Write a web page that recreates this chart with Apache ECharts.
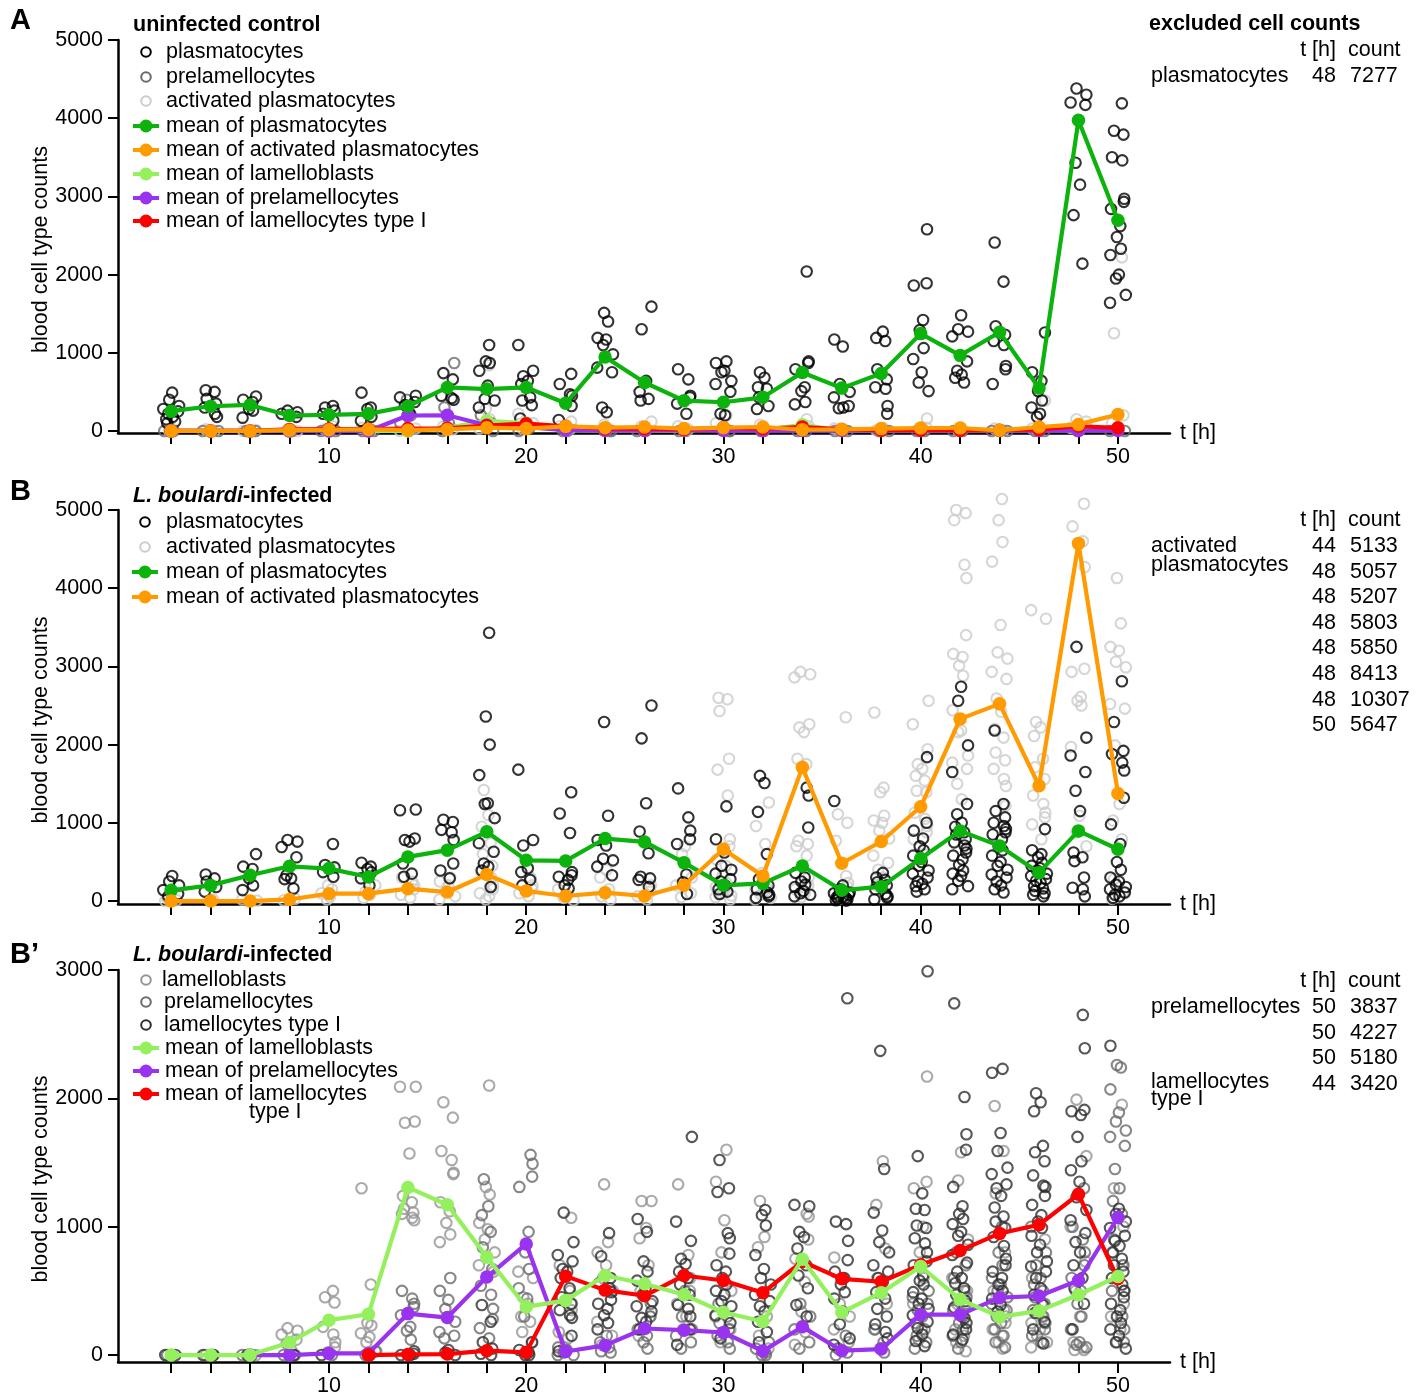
<!DOCTYPE html>
<html><head><meta charset="utf-8">
<script src="https://cdn.jsdelivr.net/npm/echarts@6/dist/echarts.min.js"></script>
<style>html,body{margin:0;padding:0;background:#fff}#c{width:1426px;height:1397px}</style>
</head><body><div id="c"></div><script>
// ---------- time points and axis ticks ----------
const T = [2,4,6,8,10,12,14,16,18,20,22,24,26,28,30,32,34,36,38,40,42,44,46,48,50];
const X_TICKS = [2,4,6,8,10,12,14,16,18,20,22,24,26,28,30,32,34,36,38,40,42,44,46,48,50];
const X_LABELS = [10,20,30,40,50];
const Y_TICKS_5000 = [0,1000,2000,3000,4000,5000];
const Y_TICKS_3000 = [0,1000,2000,3000];

// ---------- Panel A: uninfected control ----------
const A_PLASMA = [
 [490,400,320,280,250,220,180,150,120,100],[520,500,410,350,300,220,180],[440,400,370,280,260,170],
 [260,240,220,180],[320,300,260,220,130],[490,300,280,180,130],[450,430,370,330,230],
 [740,660,450,420,400],[1100,890,870,770,580,410,390,300],[1100,770,700,640,600,430,390,330,160],
 [730,600,470,450,320,140],[1510,1400,1190,1170,1100,980,810,750,300,240],[1590,1300,640,500,410,390],
 [790,660,450,430,350,220],[890,870,770,750,640,600,500,220,200],[750,680,560,540,430,320,280],
 [2040,890,870,790,560,510,370,340],[1170,1080,600,500,430,320,290,300],[1270,1190,1150,790,660,560,540,320,220],
 [2580,1890,1860,1420,1290,1060,920,750,620,510],[1480,1300,1270,1210,890,770,720,680,620],
 [2410,1910,1340,1230,1150,1100,830,790,600],[1260,750,640,510,390,300,220,180],
 [4380,4300,4200,4170,3430,3150,2760,2140],
 [4190,3840,3790,3500,3460,2970,2930,2840,2620,2480,2330,2250,2000,1950,1740,1640]
];
const A_PRELAM = [
 [0,0],[0,0],[0,0],[0,0],[0,0],[0,0],[400,200,100,0],[870,300,100,0],[200,100,0],[30,0],
 [0,0],[0,0],[0,0],[0,0],[0,0],[0,0],[0,0],[0,0],[0,0],[0,0],[0,0],[0,0],[0,0],[30,0],[0,0]
];
const A_ACT = [
 [30,0],[20,0],[10,0],[20,0],[60,20],[40,0],[30,0],[60,20],[840,280,150,30],[220,100,20],
 [120,60,20],[80,30],[120,60,20],[60,20],[200,100,30],[80,30],[150,60],[30,10],[40,10],[160,40],
 [40,10],[30,10],[390,30],[150,120,40],[2220,1250,200,100]
];
const A_M_PLASMA = [253,316,333,198,207,219,316,557,536,557,354,945,620,388,367,430,747,548,734,1245,966,1262,548,3975,2696];
const A_M_ACT    = [0,0,0,10,15,20,10,20,42,30,59,42,51,30,42,51,17,21,30,38,38,8,51,84,211];
const A_M_LAMBL  = [0,0,0,0,0,0,0,40,130,100,10,5,5,5,30,10,80,5,5,5,5,5,10,10,30];
const A_M_PRELAM = [0,0,0,0,0,0,198,200,72,50,10,5,5,10,5,5,5,5,5,5,5,5,5,5,5];
const A_M_LAM1   = [0,0,0,20,25,25,30,35,70,93,60,30,30,20,40,30,50,20,10,10,10,10,20,60,40];

// ---------- Panel B: L. boulardi-infected, plasmatocytes ----------
const B_PLASMA = [
 [320,250,200,140,90,60],[340,290,250,180,120],[600,440,410,290,200,140],[780,760,690,560,330,290,280,160],
 [730,460,430,370,310],[490,440,410,370,290,200],[1170,1160,800,780,760,480,350,310],
 [1040,1010,910,880,780,480,390,290],[3430,2360,2000,1610,1250,1240,1060,740,630,480,440,390,180],
 [1680,780,710,420,370,270,200],[1390,1120,870,370,330,310,270,200,160],[2290,1090,780,710,540,520,440,330],
 [2500,2080,1250,890,610,310,290,270,180],[1440,1070,900,790,730,340,240,90],
 [1210,790,620,450,400,350,280,250,200,150,120,90],
 [1600,1510,1140,600,280,200,150,110,80,60,40],[1450,1350,940,360,300,250,210,180,130,100,80,60],
 [1280,200,150,110,100,80,70,60,50,40,30,20,10,5],[360,300,270,240,200,150,90,60,40,20],
 [1840,1000,900,800,700,650,580,500,450,390,350,300,250,220,190,150,120],
 [2740,2560,1990,1650,1240,1110,1000,950,880,850,790,750,710,670,620,580,530,460,390,350,320,260,190,150],
 [2180,1240,1150,1070,1000,960,920,880,850,790,700,650,580,500,450,400,340,300,250,200,150,110],
 [920,650,600,560,490,450,420,390,350,320,280,260,230,190,160,130,100,80,60],
 [3250,2090,1860,1650,1410,1150,620,560,510,300,170,150,60],
 [2810,2290,1920,1880,1770,1670,1320,980,730,500,400,300,250,210,180,150,110,80,60,40]
];
const B_ACT = [
 [30,10,0],[20,10],[20,5],[30,10],[200,150,100,50,20],[200,120,80,40],[300,250,200,150,80,40],
 [300,250,200,120,60,20],[1420,1100,950,740,600,450,380,300,200,150,100,60,20],[300,200,150,100,60],
 [150,80,40,10],[400,300,150,60,20],[200,120,60,20],[700,600,300,200,100,50],
 [2600,2580,2430,1820,1680,1350,790,700,530,450,320,230,180,140,100,70,50,20],[1260,960,730,360,190,150,110,80,40,20],
 [2930,2900,2860,2260,2220,2160,1820,1750,770,730,700,580,300,200,150,100,50],[2350,1110,1000,770,320,230,180,100,60,30],
 [2410,1450,1390,1090,1030,1000,900,800,580,490,400,300,200,80],
 [2560,2260,1940,1750,1690,1600,1540,1410,1390,1130,1050,960,880,790,600],
 [5000,4960,4870,4300,4130,3400,3160,3120,3010,2880,2440,2180,2160,1860,1770,1690,1500,1300],
 [5140,4870,4590,4340,3530,3180,3100,2930,2840,2590,2420,2200,2090,1900,1800,1690,1560,1470,1220],
 [3720,3610,2290,2220,2110,1820,1710,1560,1350,1240,1130,1070,980,790],
 [5080,4790,4600,4270,2970,2930,2610,2560,2500,1970,1090,880,700],
 [4130,3550,3250,3200,3060,2990,2520,2460,1990,1240,1030,790,280,110,30]
];
const B_M_PLASMA = [137,200,329,444,415,308,564,650,885,521,513,799,756,491,201,226,449,137,184,543,897,705,363,897,662];
const B_M_ACT    = [0,0,0,20,94,94,158,115,338,128,64,107,64,201,662,320,1709,483,761,1205,2329,2521,1474,4573,1376];

// ---------- Panel B': L. boulardi-infected, lamellocyte lineage ----------
const BP_LAMBL = [
 [0],[0],[0],[210,190,160,120,90,40],[500,450,410,220,160,100,60],[1300,550,250,230,170,140,100,30],
 [2090,2090,1820,1810,1570,1240,1190,1140,1110,1100,1070,1050],[1970,1850,1590,1520,1420,1410,1190,1120,1030,940,880],
 [2100,1310,1250,1030,980,900,800,700,650],[650,600,450,400,300,260,180,100],[1070,700,500,400,350,180,130,60],
 [1330,880,800,700,600,500,260,150,80],[1200,1200,990,910,700,500,300,150],[1330,780,600,500,400,300,200],
 [1600,1350,1050,800,500,300,200,100],[1200,920,840,300,150,50],[1100,1080,900,750,570,340,180,80],
 [760,600,400,300,200,100,50],[1510,1170,830,600,400,200],[2170,1350,1300,1000,800,600,400,200,120],
 [1580,1360,900,600,500,400,300,200,150,100,30],[1940,1590,1260,800,500,350,300,250,200,150,100,50],
 [900,600,400,350,300,250,200,150,100,60],
 [1990,1550,1000,730,500,300,100,60,40,40],[1950,1300,1000,800,700,500,400,300,200,100]
];
const BP_PRELAM = [
 [0],[0],[0],[0,0],[20,0],[30,0],[500,440,400,375,310,220,190,120],[600,500,430,360,260,180,150,130],
 [1370,1160,1090,960,840,670,540,470,360,280,210,130],[1560,1490,1390,1310,960,800,670,520,440,300],
 [60,40,20,0,0],[150,100,60,30,20],[400,300,200,150,100,50],[500,300,200,150,100,50],[400,300,250,200,150,100,50],
 [100,50,20,0,0],[400,300,200,100,50],[150,50,20,0],[200,100,50,20],[500,450,400,350,300,250,200,150,100,50],
 [800,700,600,500,450,400,350,300,250,200,150,100,50],
 [1000,800,700,600,550,500,450,400,350,300,250,200,150,100,60],
 [1000,800,700,600,550,500,450,400,350,300,250,200,150,100],
 [1300,1000,900,800,700,600,500,400,300,200,100,80,60],
 [2260,2240,2070,1890,1820,1750,1700,1630,1450,1300,1200,1100,900,700,500,300,200,100]
];
const BP_LAM1 = [
 [0,0],[0,0],[0,0],[0],[0],[0],[30,10,0,0],[40,20,0],[390,260,100,50,10,0],[100,40,20,0,0],
 [1110,880,780,730,670,650,600,520,450,400,350,310,290,150,30],
 [950,770,600,560,520,490,430,400,360,310,250,200],
 [1060,960,730,650,580,520,470,420,380,340,290,260,200],
 [1700,1040,890,750,710,650,600,550,470,390,360,300,200,80],
 [1520,1300,1270,950,910,790,700,650,600,550,500,470,420,380,310,250,130],
 [1130,1090,1010,780,670,600,550,470,420,380,340,260,180,100],
 [1170,1160,960,920,830,700,620,520,390,300],
 [2780,1040,1020,890,740,650,600,550,490,440,340,240,130,80],
 [2370,1450,1110,970,880,800,700,650,600,570,490,440,360,300,240,180,130],
 [2990,1550,1260,1140,1130,1010,990,910,870,800,730,700,620,580,550,490,440,400,360,310,260,210,160,110,70],
 [2740,2010,1720,1600,1310,1160,1100,1060,1020,960,930,860,780,720,650,600,560,520,470,420,370,290,250,200,160,120],
 [2230,2200,1730,1590,1460,1410,1330,1300,1240,1150,1080,1040,990,920,850,750,700,650,600,550,500,440,390,340],
 [2040,1970,1900,1630,1580,1510,1400,1320,1310,1240,1170,1090,1040,990,930,860,800,730,690,650,600,520,470,390,330,260,200,90],
 [2650,2390,1910,1900,1870,1700,1510,1440,1350,1230,1130,1050,950,880,800,700,600,520,400,200],
 [2410,1140,1100,1040,990,930,890,850,800,750,700,650,600,550,500,450,400,350,300,250,200,150,100,50]
];
const BP_M_LAMBL  = [0,0,0,98,272,318,1306,1171,763,375,426,620,556,470,333,261,747,333,486,690,434,297,344,470,612];
const BP_M_PRELAM = [null,null,0,0,13,13,323,292,608,866,28,75,207,194,176,31,220,34,47,315,315,447,460,581,1072];
const BP_M_LAM1   = [null,null,null,null,null,0,5,8,34,21,615,506,462,620,581,486,729,594,571,703,814,948,1015,1253,594];

// ---------- excluded cell counts (tables at right) ----------
const EXCL_A_T = [48], EXCL_A_COUNT = [7277];
const EXCL_B_T = [44,48,48,48,48,48,48,50], EXCL_B_COUNT = [5133,5057,5207,5803,5850,8413,10307,5647];
const EXCL_BP_T = [50,50,50,44], EXCL_BP_COUNT = [3837,4227,5180,3420];

// ---------- styling / layout ----------
const FONT = '"Liberation Sans", Arial, Helvetica, sans-serif';
const FS = 21.5;
const C = {green:'#0db30d', orange:'#ff9a00', lgreen:'#94f05c', purple:'#9933f0', red:'#ff0000',
  black:'#000000', prelam:'#6a6a6a', act:'#cccccc', lambl:'#959595', lam1:'#2e2e2e'};
// horizontal jitter pattern for overlapping points (layout only, in hours)
const JIT = [0.05,-0.25,0.3,-0.1,0.2,-0.35,0.4,-0.2,0.12,-0.4,0.28,-0.05,0.35,-0.3,0.15,-0.15,0.22,-0.38,0.08,0.32];

function scatterData(groups, shift){
  const out = [];
  groups.forEach((vals,i)=>vals.forEach((v,j)=>out.push([T[i] + JIT[(j*3 + i + shift) % JIT.length], v])));
  return out;
}
function lineData(vals){
  const out = [];
  vals.forEach((v,i)=>{ if(v!==null) out.push([T[i], v]); });
  return out;
}
const axisLine = {color:'#000', width:2.5};
function xAxis(gi){
  return {type:'value', gridIndex:gi, min:-0.697, max:52.64,
    name:'t [h]', nameLocation:'end', nameGap:10,
    nameTextStyle:{fontSize:FS, color:'#000', fontFamily:FONT, verticalAlign:'middle'},
    axisLine:{show:true, onZero:false, lineStyle:axisLine},
    axisTick:{show:true, customValues:X_TICKS, length:11, lineStyle:{color:'#000', width:2}},
    axisLabel:{show:true, customValues:X_LABELS, margin:13, fontSize:FS, color:'#000', fontFamily:FONT,
      formatter:(v)=>String(v)},
    splitLine:{show:false}};
}
function yAxis(gi, min, max, ticks){
  return {type:'value', gridIndex:gi, min, max,
    name:'blood cell type counts', nameLocation:'middle', nameGap:66, nameRotate:90,
    nameMoveOverlap:false,
    nameTextStyle:{fontSize:FS, color:'#000', fontFamily:FONT, padding:[0,26,0,0]},
    axisLine:{show:true, onZero:false, lineStyle:axisLine},
    axisTick:{show:true, customValues:ticks, length:10, lineStyle:{color:'#000', width:2}},
    axisLabel:{show:true, customValues:ticks, margin:15, fontSize:FS, color:'#000', fontFamily:FONT,
      formatter:(v)=>String(v)},
    splitLine:{show:false}};
}
function sc(gi, name, groups, color, shift){
  return {type:'scatter', name, xAxisIndex:gi, yAxisIndex:gi, data:scatterData(groups, shift),
    symbol:'circle', symbolSize:10.5, clip:false, silent:true,
    itemStyle:{color:'rgba(0,0,0,0)', borderColor:color, borderWidth:2.1}, z:2};
}
function ln(gi, name, vals, color, z){
  return {type:'line', name, xAxisIndex:gi, yAxisIndex:gi, data:lineData(vals),
    symbol:'circle', symbolSize:13.5, showSymbol:true, clip:false, silent:true,
    lineStyle:{width:4.2, color}, itemStyle:{color}, z};
}

// ---------- legend / annotation graphics ----------
const G = [];
function txt(x, y, text, o){
  o = o || {};
  const st = {text, x:0, y:0, font:(o.bold?'bold ':'') + (o.size||FS) + 'px ' + FONT, fill:'#000',
    textAlign:o.align||'left', align:o.align||'left', textVerticalAlign:'middle', verticalAlign:'middle'};
  if (o.rich) st.rich = o.rich;
  G.push({type:'text', x, y, silent:true, style:st});
}
function circ(x, y, color){
  G.push({type:'circle', silent:true, shape:{cx:x, cy:y, r:4.8}, style:{fill:'none', stroke:color, lineWidth:2}});
}
function lineIcon(x, y, color){
  G.push({type:'line', silent:true, shape:{x1:x-13, y1:y, x2:x+13, y2:y}, style:{stroke:color, lineWidth:4}});
  G.push({type:'circle', silent:true, shape:{cx:x, cy:y, r:6.5}, style:{fill:color}});
}
// Panel letters
txt(10, 21, 'A', {bold:true, size:29});
txt(10, 492, 'B', {bold:true, size:29});
txt(10, 955, 'B\u2019', {bold:true, size:29});
// Panel A legend
txt(133, 25, 'uninfected control', {bold:true});
circ(146, 52, C.black);  txt(166, 52, 'plasmatocytes');
circ(146, 77, C.prelam); txt(166, 77, 'prelamellocytes');
circ(146, 101, C.act);   txt(166, 101, 'activated plasmatocytes');
lineIcon(146, 126, C.green);  txt(166, 126, 'mean of plasmatocytes');
lineIcon(146, 150, C.orange); txt(166, 150, 'mean of activated plasmatocytes');
lineIcon(146, 174, C.lgreen); txt(166, 174, 'mean of lamelloblasts');
lineIcon(146, 198, C.purple); txt(166, 198, 'mean of prelamellocytes');
lineIcon(146, 221, C.red);    txt(166, 221, 'mean of lamellocytes type I');
// Panel B legend
const richI = {i:{fontStyle:'italic', fontWeight:'bold', fontSize:FS, fontFamily:FONT}};
txt(133, 496, '{i|L. boulardi}-infected', {bold:true, rich:richI});
circ(145, 522, C.black); txt(166, 522, 'plasmatocytes');
circ(145, 547, C.act);   txt(166, 547, 'activated plasmatocytes');
lineIcon(145, 572, C.green);  txt(166, 572, 'mean of plasmatocytes');
lineIcon(145, 597, C.orange); txt(166, 597, 'mean of activated plasmatocytes');
// Panel B' legend
txt(133, 955, '{i|L. boulardi}-infected', {bold:true, rich:richI});
circ(146, 980, C.lambl);  txt(162, 980, 'lamelloblasts');
circ(146, 1002, C.prelam); txt(164, 1002, 'prelamellocytes');
circ(146, 1025, C.lam1);  txt(164, 1025, 'lamellocytes type I');
lineIcon(146, 1048, C.lgreen); txt(165, 1048, 'mean of lamelloblasts');
lineIcon(146, 1071, C.purple); txt(165, 1071, 'mean of prelamellocytes');
lineIcon(146, 1094, C.red);    txt(165, 1094, 'mean of lamellocytes');
txt(249, 1112, 'type I');
// Excluded counts tables
const TCOL = 1336, CCOL = 1350;
txt(1149, 24, 'excluded cell counts', {bold:true});
txt(TCOL, 50, 't [h]', {align:'right'}); txt(1348, 50, 'count');
txt(1151, 76, 'plasmatocytes');
EXCL_A_T.forEach((t,i)=>{ txt(TCOL, 76 + i*25.6, String(t), {align:'right'}); txt(CCOL, 76 + i*25.6, String(EXCL_A_COUNT[i])); });
txt(TCOL, 520, 't [h]', {align:'right'}); txt(1348, 520, 'count');
txt(1151, 546, 'activated'); txt(1151, 565, 'plasmatocytes');
EXCL_B_T.forEach((t,i)=>{ txt(TCOL, 546 + i*25.6, String(t), {align:'right'}); txt(CCOL, 546 + i*25.6, String(EXCL_B_COUNT[i])); });
txt(TCOL, 981, 't [h]', {align:'right'}); txt(1348, 981, 'count');
txt(1151, 1007, 'prelamellocytes');
txt(1151, 1082, 'lamellocytes'); txt(1151, 1099, 'type I');
EXCL_BP_T.forEach((t,i)=>{ txt(TCOL, 1007 + i*25.6, String(t), {align:'right'}); txt(CCOL, 1007 + i*25.6, String(EXCL_BP_COUNT[i])); });

// ---------- chart ----------
const chart = echarts.init(document.getElementById('c'), null, {renderer:'canvas'});
chart.setOption({
  animation:false,
  backgroundColor:'#fff',
  textStyle:{fontFamily:FONT},
  grid:[
    {left:118, top:40, width:1052, height:393},
    {left:118, top:510, width:1052, height:394},
    {left:118, top:970, width:1052, height:394}
  ],
  xAxis:[xAxis(0), xAxis(1), xAxis(2)],
  yAxis:[yAxis(0,-26,5000,Y_TICKS_5000), yAxis(1,-38,5000,Y_TICKS_5000), yAxis(2,-54,3000,Y_TICKS_3000)],
  series:[
    // A
    sc(0,'activated plasmatocytes', A_ACT, C.act, 0),
    sc(0,'prelamellocytes', A_PRELAM, C.prelam, 5),
    sc(0,'plasmatocytes', A_PLASMA, C.black, 0),
    ln(0,'mean of lamelloblasts', A_M_LAMBL, C.lgreen, 3),
    ln(0,'mean of prelamellocytes', A_M_PRELAM, C.purple, 4),
    ln(0,'mean of lamellocytes type I', A_M_LAM1, C.red, 5),
    ln(0,'mean of plasmatocytes', A_M_PLASMA, C.green, 6),
    ln(0,'mean of activated plasmatocytes', A_M_ACT, C.orange, 7),
    // B
    sc(1,'activated plasmatocytes', B_ACT, C.act, 7),
    sc(1,'plasmatocytes', B_PLASMA, C.black, 0),
    ln(1,'mean of plasmatocytes', B_M_PLASMA, C.green, 6),
    ln(1,'mean of activated plasmatocytes', B_M_ACT, C.orange, 7),
    // B'
    sc(2,'lamelloblasts', BP_LAMBL, C.lambl, 0),
    sc(2,'prelamellocytes', BP_PRELAM, C.prelam, 7),
    sc(2,'lamellocytes type I', BP_LAM1, C.lam1, 13),
    ln(2,'mean of prelamellocytes', BP_M_PRELAM, C.purple, 4),
    ln(2,'mean of lamellocytes type I', BP_M_LAM1, C.red, 5),
    ln(2,'mean of lamelloblasts', BP_M_LAMBL, C.lgreen, 6)
  ],
  graphic:G
});
</script></body></html>
